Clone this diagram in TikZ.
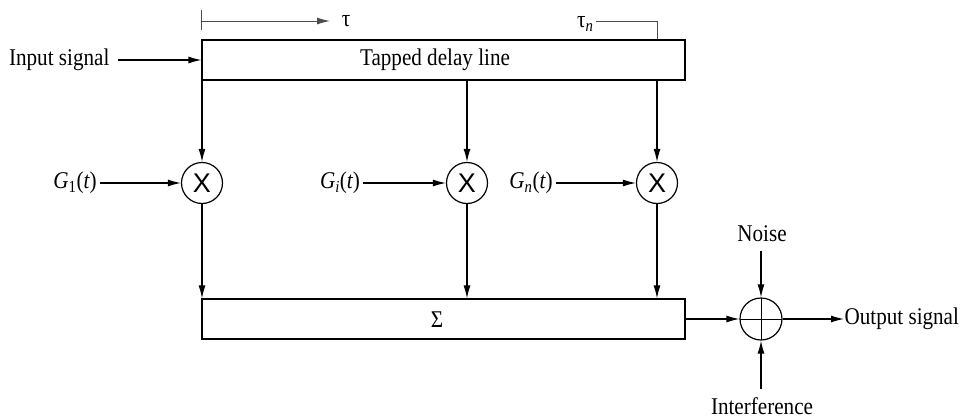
\documentclass[tikz,border=0pt]{standalone}
\usepackage{fontspec}
\setmainfont{Liberation Serif}[FakeStretch=0.88]
\newfontfamily\xsans{Liberation Sans}
\usetikzlibrary{arrows.meta}
\begin{document}
\begin{tikzpicture}[x=1pt,y=-1pt,
  line width=1.2pt,
  lbl/.style={inner sep=0pt, font=\fontsize{24}{26}\selectfont},
  arr/.style={-{Latex[length=13pt,width=7pt]}},
  blk/.style={draw, inner sep=0pt},
  mult/.style={draw, circle, minimum size=41pt, inner sep=0pt, font=\xsans\fontsize{27}{30}\selectfont},
  adder/.style={draw, circle, minimum size=42pt, inner sep=0pt,
    path picture={\draw[line width=1pt] (path picture bounding box.north) -- (path picture bounding box.south)
      (path picture bounding box.west) -- (path picture bounding box.east);}}
]
\useasboundingbox (0,0) rectangle (962,418);

% tapped delay line
\node[blk, minimum width=483pt, minimum height=40pt] (tdl) at (443.5,60) {};
\node[lbl] (tdltxt) at (435,60) {Tapped delay line};

% tau markers
\coordinate (t0a) at (201,10);
\coordinate (t0b) at (201,30);
\coordinate (t0c) at (201,21);
\coordinate (t0d) at (330,21);
\draw[line width=1pt, draw=black!70] (t0a) -- (t0b);
\draw[arr, line width=1pt, draw=black!70] (t0c) -- (t0d);
\node[lbl] (tau) at (346,21) {τ};
\node[lbl, anchor=east] (taun) at (594,24) {τ\textsubscript{\itshape n}};
\coordinate (tn1) at (596,21);
\coordinate (tn2) at (657,21);
\draw[line width=1pt, draw=black!70] (tn1) -- (tn2) -- (tn2 |- tdl.north);

% input
\node[lbl, anchor=east] (in) at (110,60) {Input signal};
\draw[arr] ([xshift=8pt]in.east) -- (tdl.west |- in);

% multipliers
\node[mult] (m1) at (202,183) {X};
\node[mult] (m2) at (467,183) {X};
\node[mult] (m3) at (657,183) {X};

\node[lbl] (g1) at (75,183) {\itshape G\textsubscript{\upshape 1}\upshape(\itshape t\upshape)};
\node[lbl] (g2) at (340,183) {\itshape G\textsubscript{i}\upshape(\itshape t\upshape)};
\node[lbl] (g3) at (531,183) {\itshape G\textsubscript{n}\upshape(\itshape t\upshape)};

\draw[arr] ([xshift=3pt]g1.east) -- (m1.west);
\draw[arr] ([xshift=3pt]g2.east) -- (m2.west);
\draw[arr] ([xshift=3pt]g3.east) -- (m3.west);

\draw[arr] (tdl.south -| m1) -- (m1.north);
\draw[arr] (tdl.south -| m2) -- (m2.north);
\draw[arr] (tdl.south -| m3) -- (m3.north);

% summation
\node[blk, minimum width=483pt, minimum height=40pt] (sum) at (443.5,319) {};
\node[lbl] (sig) at (437,320) {Σ};

\draw[arr] (m1.south) -- (m1 |- sum.north);
\draw[arr] (m2.south) -- (m2 |- sum.north);
\draw[arr] (m3.south) -- (m3 |- sum.north);

% adder
\node[adder] (add) at (761,319) {};
\draw[arr] (sum.east) -- (add.west);

\node[lbl, anchor=west] (out) at (844,319) {Output signal};
\draw[arr] (add.east) -- (out.west);

\node[lbl] (noise) at (762,234) {Noise};
\draw[arr] ([yshift=-8pt]noise.south -| add) -- (add.north);

\node[lbl] (intf) at (762,406) {Interference};
\draw[arr] ([yshift=8pt]intf.north -| add) -- (add.south);
\end{tikzpicture}
\end{document}
